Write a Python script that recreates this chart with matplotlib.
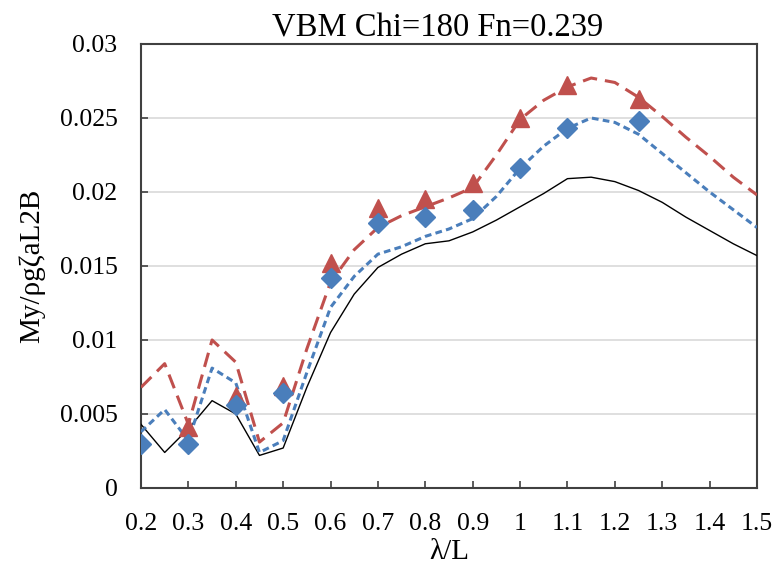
import matplotlib
matplotlib.use("Agg")
import matplotlib.pyplot as plt
from matplotlib.ticker import FixedLocator, FuncFormatter

# Curve data (lambda/L every 0.05)
lam = [0.2, 0.25, 0.3, 0.35, 0.4, 0.45, 0.5, 0.55, 0.6, 0.65, 0.7, 0.75, 0.8, 0.85,
       0.9, 0.95, 1.0, 1.05, 1.1, 1.15, 1.2, 1.25, 1.3, 1.35, 1.4, 1.45, 1.5]
black_line = [0.0043, 0.0024, 0.0040, 0.0059, 0.0050, 0.0022, 0.0027, 0.0068, 0.0105,
              0.0131, 0.0149, 0.0158, 0.0165, 0.0167, 0.0173, 0.0181, 0.0190, 0.0199,
              0.0209, 0.0210, 0.0207, 0.0201, 0.0193, 0.0183, 0.0174, 0.0165, 0.0157]
blue_line = [0.0038, 0.0053, 0.0032, 0.0081, 0.0071, 0.0024, 0.0032, 0.0078, 0.0122,
             0.0143, 0.0158, 0.0163, 0.0170, 0.0175, 0.0182, 0.0197, 0.0216, 0.0231,
             0.0243, 0.0250, 0.0247, 0.0239, 0.0226, 0.0213, 0.0200, 0.0188, 0.0176]
red_line = [0.0068, 0.0084, 0.0043, 0.0100, 0.0085, 0.0031, 0.0044, 0.0094, 0.0139,
            0.0161, 0.0176, 0.0184, 0.0190, 0.0196, 0.0203, 0.0225, 0.0249, 0.0262,
            0.0271, 0.0277, 0.0274, 0.0264, 0.0251, 0.0237, 0.0224, 0.0210, 0.0198]

# Marker data
lam_blue_pts = [0.2, 0.3, 0.4, 0.5, 0.6, 0.7, 0.8, 0.9, 1.0, 1.1, 1.25]
blue_pts = [0.0030, 0.0030, 0.0056, 0.0064, 0.0142, 0.0179, 0.0183, 0.0188, 0.0216, 0.0243, 0.0248]
lam_red_pts = [0.3, 0.4, 0.5, 0.6, 0.7, 0.8, 0.9, 1.0, 1.1, 1.25]
red_pts = [0.0041, 0.0062, 0.0069, 0.0152, 0.0189, 0.0195, 0.0206, 0.0250, 0.0272, 0.0263]

x_ticks = [0.2, 0.3, 0.4, 0.5, 0.6, 0.7, 0.8, 0.9, 1.0, 1.1, 1.2, 1.3, 1.4, 1.5]
y_ticks = [0, 0.005, 0.01, 0.015, 0.02, 0.025, 0.03]

BLUE = "#4A7EBB"
RED = "#C0504D"

plt.rcParams['font.family'] = ['Liberation Serif', 'DejaVu Serif']

fig = plt.figure(figsize=(7.76, 5.69), dpi=100)
ax = fig.add_axes([0.1817, 0.1424, 0.9755 - 0.1817, 0.9227 - 0.1424])

ax.grid(axis='y', color='#D9D9D9', linewidth=1.2)
ax.set_axisbelow(True)

ax.plot(lam, black_line, color='black', linewidth=1.0, zorder=3)
ax.plot(lam, blue_line, color=BLUE, linewidth=2.2, linestyle=(0, (2.2, 1.4)), zorder=3)
ax.plot(lam, red_line, color=RED, linewidth=2.2, linestyle=(0, (4.8, 2.6)), zorder=3)

ax.plot(lam_red_pts, red_pts, linestyle='none', marker='^', markersize=12.5,
        color=RED, zorder=4)
ax.plot(lam_blue_pts, blue_pts, linestyle='none', marker='D', markersize=10.5,
        color=BLUE, zorder=5)

ax.set_xlim(0.2, 1.5)
ax.set_ylim(0, 0.03)
ax.xaxis.set_major_locator(FixedLocator(x_ticks))
ax.yaxis.set_major_locator(FixedLocator(y_ticks))
ax.xaxis.set_major_formatter(FuncFormatter(lambda v, p: f"{v:g}"))
ax.yaxis.set_major_formatter(FuncFormatter(lambda v, p: f"{v:g}"))
ax.tick_params(axis='both', direction='in', length=5, width=1.2, labelsize=18.5,
               color='#404040')
ax.tick_params(axis='x', pad=18)
ax.tick_params(axis='y', pad=17)
for s in ax.spines.values():
    s.set_color('#404040')
    s.set_linewidth(1.5)

ax.set_title("VBM Chi=180 Fn=0.239", fontsize=23.5, pad=4, x=0.482)
ax.set_xlabel("λ/L", fontsize=21, labelpad=3)
ax.set_ylabel("My/ρgζaL2B", fontsize=21, labelpad=10)

fig.savefig("out.png", dpi=100)
